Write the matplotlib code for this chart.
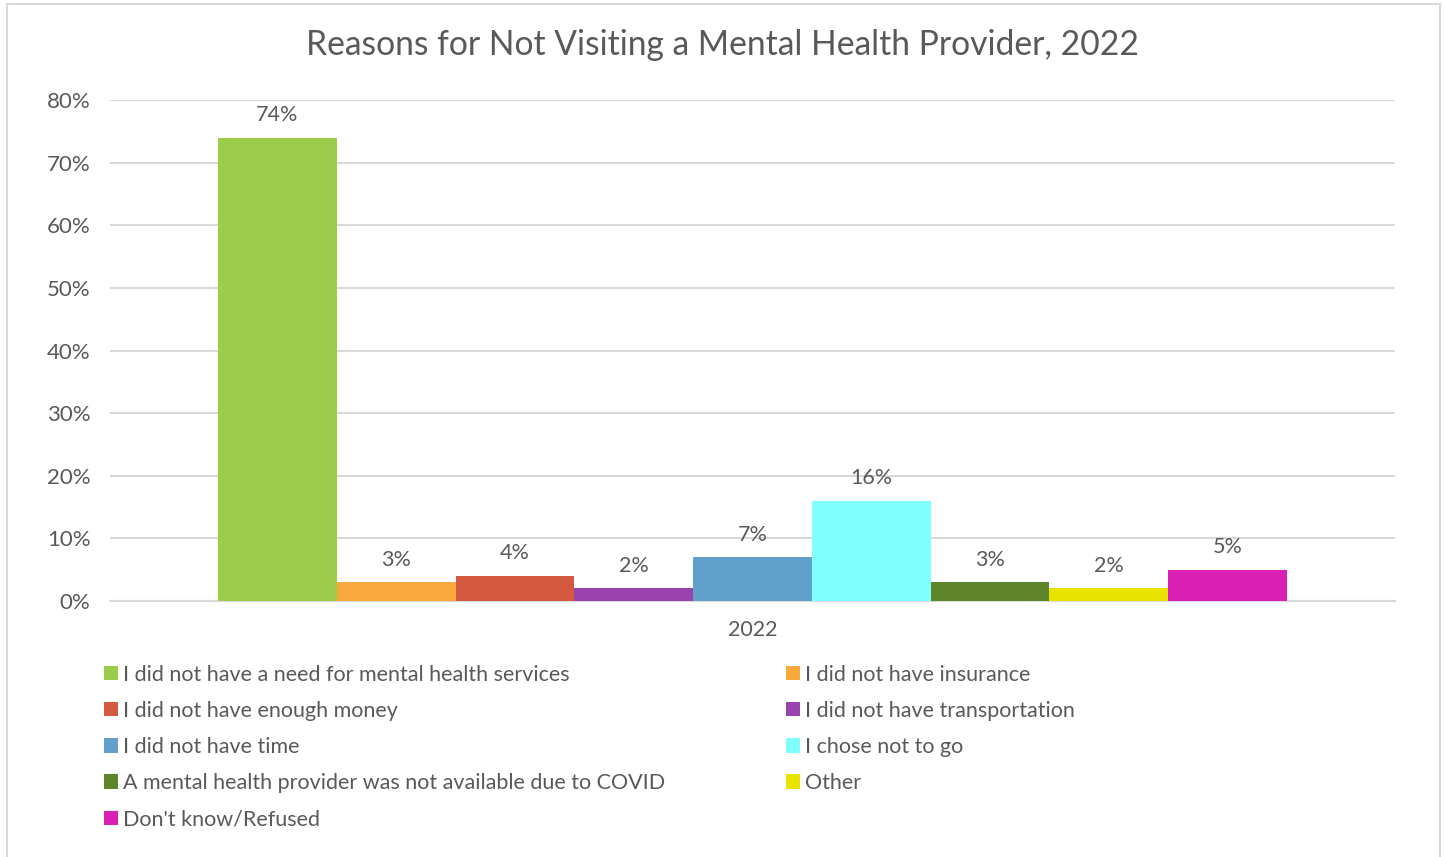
import matplotlib.pyplot as plt
from matplotlib.patches import Patch
from matplotlib.lines import Line2D

plt.rcParams['font.family'] = ['Lato', 'DejaVu Sans']

# dades del gràfic
categories = [
    "I did not have a need for mental health services",
    "I did not have insurance",
    "I did not have enough money",
    "I did not have transportation",
    "I did not have time",
    "I chose not to go",
    "A mental health provider was not available due to COVID",
    "Other",
    "Don't know/Refused",
]
valors = [74, 3, 4, 2, 7, 16, 3, 2, 5]
colors = ["#9BCD4B", "#F9A83B", "#D35A40", "#9A42B0", "#62A0CC",
          "#80FFFF", "#5E8529", "#E8E400", "#DA1FB5"]
any_label = "2022"
ticks_y = [0, 10, 20, 30, 40, 50, 60, 70, 80]

gris = "#595959"

fig = plt.figure(figsize=(14.45, 8.57), dpi=100)
ax = fig.add_axes([0.0761, 0.2987, 0.8893, 0.5846])

x = list(range(len(valors)))
bars = ax.bar(x, valors, width=1.0, color=colors, zorder=3)
for b, v in zip(bars, valors):
    ax.annotate(f"{v}%", (b.get_x() + b.get_width() / 2, v),
                xytext=(0, 9), textcoords="offset points",
                ha="center", va="bottom", fontsize=15.5, color=gris)

ax.set_xlim(-1.41, 9.41)
ax.set_ylim(0, 80)
ax.set_yticks(ticks_y)
ax.set_yticklabels([f"{t}%" for t in ticks_y], fontsize=16, color=gris)
ax.set_xticks([4])
ax.set_xticklabels([any_label], fontsize=15.5, color=gris)
ax.tick_params(axis="both", length=0)
ax.tick_params(axis="y", pad=14)
ax.tick_params(axis="x", pad=14)
ax.grid(axis="y", color="#D9D9D9", linewidth=1.5, zorder=0)
for s in ["top", "right", "left"]:
    ax.spines[s].set_visible(False)
ax.spines["bottom"].set_color("#D9D9D9")
ax.spines["bottom"].set_linewidth(1.5)

fig.text(0.5, 0.947, "Reasons for Not Visiting a Mental Health Provider, 2022",
         ha="center", va="center", fontsize=24.2, color=gris)

# llegenda en dues columnes, ordre per files
handles = [Patch(facecolor=c, edgecolor="none") for c in colors]
esq = [0, 2, 4, 6, 8]
dre = [1, 3, 5, 7]
for idx, xpos in [(esq, 0.0585), (dre, 0.5305)]:
    fig.legend([handles[i] for i in idx], [categories[i] for i in idx],
               loc="upper left", bbox_to_anchor=(xpos, 0.247),
               frameon=False, fontsize=15.5, labelcolor=gris,
               handlelength=0.65, handleheight=0.65, handletextpad=0.25,
               labelspacing=0.75)

# marc del gràfic
vora = "#D9D9D9"
fig.add_artist(Line2D([0.005, 0.005], [0, 0.995], color=vora, lw=1.5, transform=fig.transFigure))
fig.add_artist(Line2D([0.9965, 0.9965], [0, 0.995], color=vora, lw=1.5, transform=fig.transFigure))
fig.add_artist(Line2D([0.005, 0.9965], [0.995, 0.995], color=vora, lw=1.5, transform=fig.transFigure))

fig.savefig("out.png", dpi=100, facecolor="white")
